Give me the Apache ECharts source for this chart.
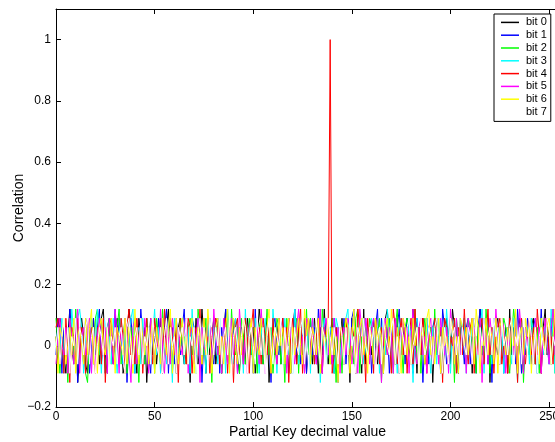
<!DOCTYPE html>
<html><head><meta charset="utf-8">
<script src="https://cdn.jsdelivr.net/npm/echarts@6/dist/echarts.min.js"></script>
<style>html,body{margin:0;padding:0;background:#fff}#c{width:555px;height:442px}</style>
</head><body><div id="c"></div>
<script>
var seriesNames = ['bit 0','bit 1','bit 2','bit 3','bit 4','bit 5','bit 6','bit 7'];
var seriesColors = ['#000000','#0000ff','#00ff00','#00ffff','#ff0000','#ff00ff','#ffff00','#ffffff'];
var xTickValues = [0,50,100,150,200,250];
var yTickValues = [-0.2,0,0.2,0.4,0.6,0.8,1];

var bit0 = [
0.03,-0.06,0.09,0.06,-0.03,-0.09,0.03,0.12,0,-0.06,0.06,-0.12,-0.03,0.09,0.03,-0.06,
-0.09,0.06,0,0.09,-0.03,0.03,-0.06,0.09,0.12,-0.03,-0.09,0.06,0,-0.06,0.03,0.09,
-0.03,0.06,-0.09,-0.06,0.03,0.12,0.06,-0.03,0,-0.09,0.09,0.03,-0.06,0.06,-0.12,0,
0.09,-0.03,0.06,-0.06,0.03,0.09,-0.09,0,0.06,0.12,-0.03,-0.06,0.03,-0.09,0.06,0.09,
0,-0.06,0.09,0.03,-0.12,0.06,-0.03,0.09,-0.06,0,0.12,0.03,-0.09,0.06,-0.03,0.03,
0.09,-0.06,0,0.06,-0.09,0.03,0.12,-0.03,0.06,-0.06,0.09,0,-0.03,-0.09,0.06,0.03,
-0.06,0.09,0.03,-0.03,0.06,-0.09,0,0.12,0.06,-0.06,0.03,0.09,-0.12,0,0.06,-0.03,
0.03,0.09,-0.06,0.06,0,-0.03,0.09,-0.09,0.03,0.12,-0.06,0.06,0,-0.03,0.09,-0.09,
0.06,0,-0.06,0.09,0.03,-0.09,0.06,-0.03,0.12,0,-0.06,0.03,0.09,-0.09,0.06,-0.03,
0,0.09,-0.06,0.03,0.06,-0.12,0.09,0,-0.03,0.06,0.03,-0.09,0.12,-0.06,0.03,0.06,
-0.03,0.09,0,-0.06,0.06,0.03,-0.09,0.09,0.12,-0.03,0,0.06,-0.06,0.09,-0.09,0.03,
0.06,-0.03,0.09,0,-0.06,0.12,0.03,-0.09,0.06,-0.03,0.09,-0.06,0,0.03,0.06,-0.12,
0.03,0.09,-0.03,0.06,-0.09,0,0.09,0.03,-0.06,0.12,0.06,-0.03,-0.09,0.06,0,0.09,
-0.06,0.03,0.06,-0.09,0.09,0,-0.03,0.12,0.03,-0.06,0.06,0.09,-0.12,0.03,-0.03,0.06,
0.09,-0.06,0.03,0,0.06,-0.09,0.12,-0.03,0.06,0.03,-0.06,0.09,0,-0.09,0.06,0.03,
-0.03,0.06,0.09,-0.06,0,0.03,-0.09,0.06,0.12,-0.03,0.03,-0.06,0.09,0,-0.09,0.06
];
var bit1 = [
-0.03,0.09,0.03,-0.09,0.06,0,-0.06,0.12,0.03,-0.03,0.09,-0.12,0.06,0.03,-0.06,0.09,
0.06,-0.09,0,0.09,-0.03,0.06,0.12,-0.06,0.03,-0.09,0.06,0.09,-0.03,0,0.12,-0.06,
0.09,0.03,-0.06,0.06,-0.12,0.03,0.09,0,-0.09,0.06,-0.03,0.12,0.03,-0.06,0.09,-0.03,
-0.09,0.06,0.03,-0.03,0.09,-0.06,0,0.06,0.12,-0.09,0.03,0.06,-0.06,0.09,0,-0.03,
0.06,0.12,-0.03,0.03,-0.09,0.09,0.06,-0.06,0,0.09,-0.12,0.03,0.06,-0.03,0.09,0,
-0.06,0.03,0.09,-0.09,0.06,0,0.12,-0.03,0.06,-0.06,0.03,0.09,-0.09,0.06,0.03,-0.03,
0.09,-0.06,0.06,0.03,-0.09,0.12,0,-0.03,0.09,0.06,-0.06,0,0.03,-0.12,0.06,0.09,
0,-0.03,0.06,0.09,-0.06,0.03,-0.09,0.06,0,0.12,-0.03,0.09,-0.06,0.03,0.06,-0.09,
0.03,0.09,-0.03,0.06,-0.06,0.12,0.03,-0.09,0.09,0,-0.03,0.06,-0.06,0.09,0.03,-0.12,
0.06,0,0.09,-0.06,0.03,-0.03,0.09,0.12,-0.09,0.06,0,-0.06,0.03,0.09,-0.03,0.06,
-0.09,0.03,0.06,0.12,-0.06,0.09,0,-0.03,0.06,-0.09,0.03,0.09,-0.06,0.06,0.12,-0.03,
0.03,-0.06,0.09,0,0.06,-0.09,0.03,0.09,-0.03,0.06,-0.12,0.03,0.09,-0.06,0,0.06,
0.09,-0.03,0.03,-0.09,0.12,0.06,-0.06,0,0.09,0.03,-0.03,0.06,-0.09,0.09,0.03,-0.06,
0.06,0.09,-0.06,0.03,0,-0.09,0.06,0.12,-0.03,0.09,0.03,-0.06,0.06,-0.12,0.09,0,
-0.03,0.06,0.09,-0.09,0.03,0.06,-0.03,0.09,0,-0.06,0.12,0.03,-0.09,0.06,-0.03,0.09,
0.03,-0.06,0.06,0.09,-0.09,0,0.12,-0.03,0.06,0.03,-0.06,0.09,-0.03,0.06,-0.09,0.03
];
var bit2 = [
0.09,0,-0.09,0.06,-0.06,0.03,-0.12,0.09,0.06,-0.03,0.12,0,-0.06,0.06,0.03,-0.09,
-0.12,0.03,0.06,-0.06,0.09,0.12,-0.03,0,0.06,-0.09,0.03,0.09,-0.06,0.03,0,0.06,
0.12,-0.06,0.03,0.09,-0.09,0,0.06,-0.03,0.09,0.03,-0.12,0.06,0,-0.06,0.09,0.03,
-0.03,0.06,-0.09,0.09,0.03,-0.06,0.12,0,-0.03,0.06,0.09,-0.09,0.03,0.06,-0.06,0.09,
0,0.03,-0.06,0.06,0.09,-0.03,0.03,-0.09,0.12,0.06,-0.06,0,0.09,-0.03,0.03,-0.12,
0.06,0.09,-0.03,0,-0.09,0.06,0.03,0.09,-0.06,0.12,0,-0.03,0.06,-0.09,0.09,0.03,
-0.06,0,0.09,-0.03,0.06,0.03,-0.09,0.06,0.09,-0.06,0.03,0.12,-0.03,0.06,-0.09,0,
0.09,0.06,-0.06,0.03,-0.12,0.09,0,0.06,-0.03,0.03,0.09,-0.09,0.06,0,-0.06,0.12,
-0.03,0.09,0.03,-0.06,0.06,0,-0.09,0.12,0.03,-0.03,0.06,-0.06,0.09,0.03,-0.12,0.06,
0.03,-0.09,0.06,0.09,-0.03,0.06,0,-0.06,0.09,0.12,-0.09,0.03,0,0.06,-0.03,0.09,
0.06,0,-0.06,0.03,0.09,-0.12,0.06,0.03,-0.03,0.09,0,-0.09,0.06,0.12,-0.06,0.03,
-0.09,0.06,0.09,0,-0.03,0.03,0.12,-0.06,0.06,-0.09,0.03,0.09,-0.03,0,0.06,-0.06,
0.12,-0.03,0.03,0.06,-0.09,0.09,0,-0.06,0.03,0.06,-0.12,0.09,0.03,-0.03,0.06,0,
-0.06,0.09,0.06,-0.03,0.03,-0.09,0.06,0.09,0,-0.06,0.12,0.03,-0.09,0.06,-0.03,0.09,
0.03,-0.06,0,0.09,0.06,-0.03,-0.09,0.03,0.12,0.06,-0.06,0,0.09,-0.12,0.03,0.06,
-0.03,0.09,0.03,-0.06,0.06,-0.09,0.09,0,-0.03,0.06,0.03,-0.06,0.12,-0.09,0.06,0
];
var bit3 = [
0,0.06,-0.03,0.09,-0.09,0.03,0.06,-0.06,0.12,0.03,-0.03,0.09,0.12,0.06,-0.09,0.03,
0.06,-0.03,0.09,-0.06,0,0.12,0.03,-0.09,0.06,0.09,-0.03,0.03,-0.06,0.09,0,-0.09,
0.03,0.09,-0.06,0.06,-0.03,0,0.09,0.12,-0.09,0.03,0.06,-0.06,0.09,-0.03,0.03,0.06,
-0.06,0.03,0.12,-0.03,0.06,-0.09,0.09,0,-0.06,0.06,0.03,-0.12,0.09,0.03,-0.03,0.06,
0.09,-0.06,0.03,0.06,-0.09,0.12,0,-0.03,0.09,-0.06,0.06,0.03,-0.09,0.09,0,-0.03,
0.06,0.03,-0.06,0.09,-0.03,0.06,-0.09,0.12,0.03,0,-0.06,0.09,0.06,-0.03,0.03,-0.09,
0.12,-0.03,0.06,0,-0.06,0.09,0.03,-0.09,0.06,-0.03,0.09,0,0.06,-0.06,0.12,0.03,
-0.09,0.06,0.03,-0.06,0.09,0,-0.03,0.06,-0.09,0.12,0.03,-0.06,0.06,0.09,-0.03,0,
0.06,-0.09,0.09,0.03,-0.03,0.06,-0.12,0.03,0.09,-0.06,0,0.06,0.03,-0.09,0.09,0.06,
-0.03,0.03,-0.06,0.09,0.12,-0.03,0.06,0,-0.09,0.06,0.03,0.09,-0.06,0,0.06,-0.03,
0.09,-0.06,0.03,0.06,-0.09,0.03,0.09,-0.03,0.12,0,-0.06,0.06,0.03,-0.09,0.06,0.09,
0,0.06,-0.03,0.09,0.03,-0.12,0.06,0.09,-0.06,0.03,0.06,-0.03,0.09,0,-0.09,0.06,
0.03,-0.06,0.09,0,0.06,-0.03,0.12,0.03,-0.09,0.06,0.09,-0.06,0.03,-0.03,0.06,0.09,
-0.09,0.06,0,0.09,-0.03,0.03,-0.06,0.06,0.12,-0.09,0.03,0.09,0,-0.06,0.06,0.03,
0.06,-0.03,0.09,-0.09,0.03,0.06,0,-0.06,0.09,0.03,-0.12,0.06,0.09,-0.03,0,0.06,
-0.06,0.09,0.03,0.06,-0.09,0.03,0.09,-0.03,0.06,0,-0.06,0.12,0.03,-0.09,0.06,0.03
];
var bit4 = [
0.06,0.09,-0.06,0.03,-0.09,0.09,0,-0.12,0.06,0.03,-0.06,0.09,-0.03,0.06,0.03,-0.09,
0.09,-0.03,0.06,0,-0.09,0.06,0.03,-0.06,0.09,-0.12,0.03,0.06,0.09,-0.03,0,0.06,
-0.06,0.09,0.03,-0.09,0.06,0.12,-0.03,0.03,-0.06,0.09,0,0.06,-0.09,0.03,0.09,-0.03,
0.06,-0.06,0.09,0.03,-0.03,0.06,-0.09,0.12,0,-0.06,0.09,0.03,-0.03,0.06,-0.12,0.09,
0.03,0,-0.06,0.09,0.06,-0.09,0.03,0.06,-0.03,0.12,-0.06,0.09,0,0.03,-0.09,0.06,
-0.03,0.09,0.06,-0.06,0.03,0,0.09,-0.09,0.06,0.03,-0.12,0.06,0.09,-0.03,0.03,-0.06,
0.09,0.03,-0.09,0.06,0.12,-0.03,0,0.06,-0.06,0.09,0.03,-0.03,0.06,-0.09,0.09,0,
-0.06,0.06,0.03,0.09,-0.03,0.06,-0.12,0.03,0.09,0,-0.06,0.06,0.12,-0.09,0.03,0.06,
0.09,-0.03,0.06,-0.06,0.03,0.09,0,-0.09,0.06,0.03,0.06,1,-0.09,-0.03,0.06,-0.09,
0.03,0.06,-0.06,0.09,0,-0.03,0.06,0.03,-0.09,0.12,0.06,-0.06,0.03,-0.12,0.09,-0.03,
0.06,-0.09,0.09,0.03,-0.06,0.06,0,0.09,-0.03,0.03,-0.09,0.12,0.06,-0.06,0.03,0.09,
-0.03,0.06,-0.09,0.03,0.09,-0.06,0.12,0,0.06,-0.03,0.09,0.03,-0.09,0.06,0,-0.06,
0.09,0.03,-0.03,0.06,-0.12,0.09,0.06,-0.06,0.03,0,0.09,-0.09,0.06,0.03,-0.03,0.12,
0,-0.06,0.06,0.09,-0.09,0.03,-0.03,0.06,0.09,-0.06,0.03,0.12,-0.03,0.06,-0.09,0.03,
0.06,0.09,-0.06,0,0.03,-0.09,0.09,0.06,-0.03,0.03,-0.12,0.06,0.09,0,-0.06,0.03,
0.09,-0.03,0.06,-0.06,0.12,0.03,-0.09,0.06,0,0.09,-0.03,0.03,-0.06,0.09,0.06,-0.09
];
var bit5 = [
-0.06,0.03,0.09,0,-0.03,0.06,-0.09,0.09,0.03,-0.06,0.06,0.12,-0.09,0.03,0.06,-0.03,
0.03,0.09,-0.09,0.06,-0.06,0.03,0.09,0,-0.03,0.06,-0.09,0.09,0.03,-0.06,0.12,0.03,
-0.09,0.06,0,0.09,0.03,-0.03,-0.12,0.06,0.09,-0.06,0.03,0.06,-0.03,0.09,0,-0.09,
0.09,0.03,-0.06,0.06,-0.03,0.12,0,-0.09,0.06,0.03,-0.06,0.09,0.03,-0.03,0.06,0,
-0.03,0.06,0.09,-0.09,0.03,0.06,-0.06,0.03,0.09,-0.12,0.06,0,-0.03,0.09,0.06,-0.06,
0.12,0.03,-0.03,0.06,-0.09,0.09,0,-0.06,0.03,0.09,-0.03,0.06,-0.09,0.12,0.03,-0.06,
0.03,-0.09,0.06,0.09,0,-0.03,0.06,-0.06,0.12,0.03,-0.09,0.06,0.09,-0.03,0,0.06,
-0.06,0.09,0.03,-0.03,0.06,-0.09,0.09,0.03,0,-0.06,0.06,0.12,-0.03,0.03,-0.09,0.09,
0.06,-0.03,0.09,0,-0.06,0.03,0.12,-0.09,0.06,0.09,-0.03,0.03,-0.06,0.09,0,0.06,
-0.09,0.03,0.06,-0.03,0.09,0.06,-0.06,0,0.03,-0.09,0.12,0.06,-0.03,0.09,0.03,-0.06,
0.06,0.09,-0.06,0.03,0,-0.12,0.06,0.09,-0.03,0.06,0.03,-0.09,0.09,0,-0.06,0.03,
0.09,-0.03,0.06,-0.09,0.03,0.12,0,-0.06,0.06,0.09,-0.03,0.03,-0.09,0.06,0.09,-0.06,
0,0.06,-0.06,0.09,0.03,-0.03,0.06,-0.09,0.12,0.03,-0.06,0.09,0,-0.03,0.06,0.03,
-0.09,0.09,0.03,-0.06,0.06,0,-0.03,0.09,-0.12,0.06,0.03,-0.06,0.09,0.03,-0.03,0.12,
0.03,-0.06,0.09,0.06,-0.09,0.03,0,0.06,-0.03,0.09,-0.06,0.12,0.03,-0.09,0.06,0,
0.06,0.03,-0.06,0.09,-0.03,0.06,-0.09,0.03,0.09,0,-0.06,0.06,0.12,-0.03,0.03,0.09
];
var bit6 = [
0.03,-0.09,0.06,0.03,0.09,-0.06,0,0.06,-0.03,0.09,-0.09,0.03,0.06,0,-0.06,0.09,
-0.03,0.06,0.12,-0.06,0.03,-0.09,0.06,0.09,0,-0.03,0.06,-0.06,0.09,0.03,-0.09,0.06,
0.06,0,-0.03,0.09,-0.06,0.06,0.03,-0.09,0.12,0,-0.06,0.09,0.03,-0.03,0.06,-0.06,
0.03,0.09,-0.09,0.06,0,-0.06,0.09,0.03,-0.03,0.06,0.12,-0.09,0.03,0.09,-0.06,0,
0.09,-0.03,0.03,-0.06,0.06,0.09,-0.09,0,0.06,0.03,-0.06,0.09,-0.03,0.12,0.03,-0.09,
0,0.06,0.09,-0.03,0.03,-0.06,0.06,0.12,-0.09,0.03,0.09,0,-0.06,0.06,-0.03,0.09,
0.06,-0.06,0.03,0.09,-0.09,0.06,0,-0.03,0.09,0.03,-0.06,0.06,0.12,-0.09,0.03,0.06,
-0.03,0.09,0,0.06,-0.06,0.03,0.09,-0.09,0.06,-0.03,0.03,0.09,0,-0.06,0.12,0.03,
0.09,-0.06,0.06,0.03,-0.03,0.09,-0.09,0.06,0,0.03,0.09,-0.06,0.06,-0.03,0.03,-0.12,
0.06,0.03,-0.03,0.09,0.06,-0.09,0.03,0.12,-0.06,0,0.06,0.09,-0.03,0.03,-0.09,0.06,
0.03,-0.06,0.09,0,0.06,0.03,-0.09,0.06,0.09,-0.03,0.12,0.03,-0.06,0.06,0,-0.09,
0.09,0.06,-0.03,0.03,-0.06,0.09,0,0.06,-0.09,0.03,0.06,-0.06,0.09,0.12,-0.03,0.03,
-0.06,0.03,0.09,-0.09,0.06,0,0.03,-0.03,0.09,0.06,-0.06,0.03,-0.09,0.09,0.06,0,
0.06,-0.03,0.03,0.09,-0.06,0.12,0.06,-0.09,0.03,0,0.09,-0.03,0.06,0.03,-0.06,0.09,
-0.09,0.06,0.09,0.03,-0.03,0.06,-0.06,0.09,0,0.12,-0.09,0.03,0.06,-0.03,0.09,0.03,
0.06,-0.09,0.03,0.06,0,-0.06,0.09,0.03,-0.03,0.06,0.09,-0.06,0.03,0.12,-0.03,0.06
];
var bit7 = [
0,0.06,-0.06,0.03,0.09,-0.03,0.06,-0.09,0.03,0,0.09,-0.06,0.06,0.03,-0.03,0.06,
0.09,-0.06,0.03,0.06,-0.09,0,0.06,0.03,-0.03,0.09,0.06,-0.09,0.03,0,0.06,-0.06,
0.03,0.06,-0.03,-0.09,0.06,0.09,0,-0.06,0.03,0.06,-0.03,0.09,-0.06,0.03,0,0.06,
-0.06,0.09,0.03,0,-0.03,0.06,-0.09,0.03,0.09,-0.06,0.06,0,0.03,-0.09,0.06,0.03,
0.06,-0.03,0.09,-0.06,0.03,0,0.06,-0.09,0.03,0.09,-0.03,0.06,0,-0.06,0.09,0.03,
-0.03,0.06,0,0.09,-0.06,0.03,0.06,-0.03,0.09,-0.09,0.03,0.06,0,-0.06,0.03,0.09,
0.06,-0.09,0.03,0.06,0,-0.06,0.09,0.03,-0.03,0.06,-0.09,0.03,0.09,0,-0.06,0.06,
0.03,0,0.09,-0.06,0.06,-0.03,0.03,0.09,-0.09,0.06,0,-0.03,0.06,0.09,-0.06,0.03,
-0.06,0.06,0.03,-0.03,0.09,0,-0.06,0.06,0.03,-0.09,0.09,0.03,-0.03,0.06,0,-0.06,
0.09,0.03,-0.06,0.06,-0.03,0.09,0,0.03,-0.09,0.06,0.03,-0.06,0.09,0,-0.03,0.06,
0,0.06,-0.09,0.03,0.06,-0.06,0.09,0.03,0,-0.03,0.06,0.09,-0.06,0.03,-0.09,0.06,
0.03,-0.03,0.06,0.09,-0.06,0,0.03,0.06,-0.09,0.09,0.03,-0.03,0,0.06,0.03,-0.06,
0.06,0.09,-0.03,0.03,-0.09,0.06,0,-0.06,0.09,0.03,0.06,-0.03,0.03,-0.09,0.06,0,
-0.03,0.06,0.03,-0.06,0.09,0.03,-0.09,0.06,0,0.09,-0.06,0.03,0.06,-0.03,0.09,0.03,
0.06,-0.06,0.09,0,0.03,-0.03,0.06,0.09,-0.09,0.03,0,0.06,-0.06,0.09,0.03,-0.03,
0.09,0.03,-0.06,0.06,-0.09,0.03,0.06,0,-0.03,0.09,0.06,-0.06,0.03,0,0.06,-0.03
];
var seriesValues = [bit0, bit1, bit2, bit3, bit4, bit5, bit6, bit7];

function fmt(v) {
  var r = Math.round(v * 10) / 10;
  if (r === 0) return '0';
  return (r < 0 ? '\u2212' : '') + String(Math.abs(r));
}

var chart = echarts.init(document.getElementById('c'), null, {renderer: 'canvas'});
var FONT = 'Liberation Sans, Arial, Helvetica, sans-serif';
var series = seriesNames.map(function (name, k) {
  return {
    name: name,
    type: 'line',
    xAxisIndex: 0,
    yAxisIndex: 0,
    showSymbol: false,
    symbol: 'none',
    animation: false,
    lineStyle: {color: seriesColors[k], width: 1},
    itemStyle: {color: seriesColors[k]},
    data: seriesValues[k].map(function (v, i) { return [i, v]; })
  };
});

chart.setOption({
  animation: false,
  backgroundColor: '#ffffff',
  grid: {left: 56, top: 9, width: 503, height: 398, containLabel: false, outerBoundsMode: 'none'},
  legend: {
    data: seriesNames,
    orient: 'vertical',
    left: 494,
    top: 14,
    icon: 'rect',
    itemWidth: 18,
    itemHeight: 1.5,
    itemGap: 0,
    padding: [2, 4, 3, 7],
    borderColor: '#000',
    borderWidth: 1,
    backgroundColor: '#fff',
    textStyle: {fontFamily: FONT, fontSize: 11, color: '#000', lineHeight: 12.8, padding: [0, 0, 0, 2]}
  },
  xAxis: [{
    type: 'value', min: 0, max: 255, interval: 50,
    name: 'Partial Key decimal value', nameLocation: 'middle', nameGap: 18, nameMoveOverlap: false,
    nameTextStyle: {fontFamily: FONT, fontSize: 14, color: '#000'},
    axisLine: {show: true, onZero: false, lineStyle: {color: '#000', width: 1}},
    axisTick: {show: true, inside: true, length: 5, lineStyle: {color: '#000'}},
    axisLabel: {fontFamily: FONT, fontSize: 12, color: '#000', margin: 4, showMaxLabel: false,
      formatter: function (v) { return xTickValues.indexOf(v) >= 0 ? String(v) : ''; }},
    splitLine: {show: false}
  }, {
    type: 'value', min: 0, max: 255, interval: 50, position: 'top',
    axisLine: {show: true, onZero: false, lineStyle: {color: '#000', width: 1}},
    axisTick: {show: true, inside: true, length: 5, lineStyle: {color: '#000'}},
    axisLabel: {show: false},
    splitLine: {show: false}
  }],
  yAxis: [{
    type: 'value', min: -0.2, max: 1.1, interval: 0.2,
    name: 'Correlation', nameLocation: 'middle', nameGap: 30, nameMoveOverlap: false,
    nameTextStyle: {fontFamily: FONT, fontSize: 14, color: '#000'},
    axisLine: {show: true, onZero: false, lineStyle: {color: '#000', width: 1}},
    axisTick: {show: true, inside: true, length: 5, lineStyle: {color: '#000'}},
    axisLabel: {fontFamily: FONT, fontSize: 12, color: '#000', margin: 5, showMaxLabel: false,
      formatter: function (v) {
        var r = Math.round(v * 10) / 10;
        return yTickValues.indexOf(r) >= 0 ? fmt(v) : '';
      }},
    splitLine: {show: false}
  }],
  series: series
});
</script>
</body></html>
